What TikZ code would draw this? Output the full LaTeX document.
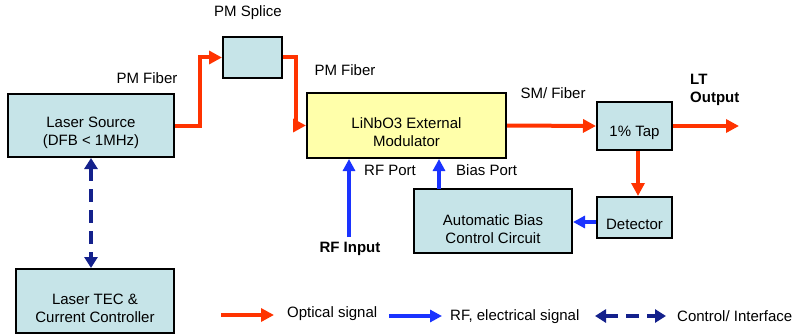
\documentclass[tikz,border=0pt]{standalone}
\usepackage{fontspec}
\setmainfont{Liberation Sans}
\usetikzlibrary{arrows.meta}
\definecolor{boxblue}{RGB}{198,228,232}
\definecolor{boxyellow}{RGB}{255,255,170}
\definecolor{optred}{RGB}{255,51,0}
\definecolor{rfblue}{RGB}{26,51,255}
\definecolor{ctlnavy}{RGB}{20,33,140}
\begin{document}
\begin{tikzpicture}[x=1pt,y=-1pt,
  box/.style={draw=black,line width=2pt,fill=boxblue,inner sep=0pt},
  lbl/.style={font=\fontsize{15}{18}\selectfont,align=center,inner sep=0pt},
  blbl/.style={font=\fontsize{15}{18}\selectfont\bfseries,align=left,inner sep=0pt},
  opt/.style={draw=optred,line width=4pt,-{Triangle[length=13pt,width=13pt]}},
  rf/.style={draw=rfblue,line width=4pt,-{Triangle[length=12pt,width=12pt]}},
  ctl/.style={draw=ctlnavy,line width=4pt,dash pattern=on 13pt off 8pt,
    {Triangle[length=11pt,width=13pt]}-{Triangle[length=11pt,width=13pt]}}]
\useasboundingbox (0,0) rectangle (794,334);

% boxes
\node[box,minimum width=166pt,minimum height=63pt] (laser) at (91,125.5) {};
\node[lbl] (laserT) at ([yshift=-7.5pt]laser.center) {Laser Source\\(DFB < 1MHz)};
\node[box,minimum width=59pt,minimum height=41pt] (splice) at (252.5,57.5) {};
\node[box,fill=boxyellow,minimum width=199pt,minimum height=65pt] (mod) at (406.5,125.5) {};
\node[lbl] (modT) at ([yshift=-7pt]mod.center) {LiNbO3 External\\Modulator};
\node[box,minimum width=75pt,minimum height=48pt] (tap) at (634.5,126) {};
\node[lbl] (tapT) at ([yshift=-7pt]tap.center) {1\% Tap};
\node[box,minimum width=75pt,minimum height=41pt] (det) at (634.5,217.5) {};
\node[lbl] (detT) at ([yshift=-6.5pt]det.center) {Detector};
\node[box,minimum width=158pt,minimum height=64pt] (bias) at (493,221) {};
\node[lbl] (biasT) at ([yshift=-8pt]bias.center) {Automatic Bias\\Control Circuit};
\node[box,minimum width=158pt,minimum height=64pt] (tec) at (95,301) {};
\node[lbl] (tecT) at ([yshift=-7.5pt]tec.center) {Laser TEC \&\\Current Controller};

% labels
\node[lbl] (splL) at (248,13) {PM Splice};
\node[lbl] (pmf1) at (147,78) {PM Fiber};
\node[lbl] (pmf2) at (345,70) {PM Fiber};
\node[lbl] (smf) at (553,93) {SM/ Fiber};
\node[blbl,anchor=west] (ltout) at (690,90) {LT\\Output};
\node[lbl,anchor=west] (rfport) at (364,170) {RF Port};
\node[lbl,anchor=west] (biasport) at (456,170) {Bias Port};
\node[blbl] (rfin) at (350,249) {RF Input};

% optical connectors
\draw[opt] (laser.east) -- ++(25,0) |- (splice.west);
\draw[opt] (splice.east) -- ++(13,0) |- (mod.west);
\draw[opt] (mod.east) -- (tap.west);
\coordinate (outend) at (739,126);
\draw[opt] (tap.east) -- (outend);
\draw[opt] ([xshift=3.5pt]tap.south) -- ([xshift=3.5pt]det.north);

% electrical connectors
\draw[rf] ([yshift=-4.5pt]det.west) -- ([yshift=-4.5pt]det.west -| bias.east);
\coordinate (bp) at (439,189);
\draw[rf] (bp) -- (bp |- mod.south);
\coordinate (rfs) at (349,237);
\draw[rf] (rfs) -- (rfs |- mod.south);

% control
\draw[ctl] (laser.south) -- (laser.south |- tec.north);

% legend
\coordinate (l1a) at (221,315); \coordinate (l1b) at (274,315);
\draw[opt] (l1a) -- (l1b);
\node[lbl,anchor=west] (l1t) at (287,314) {Optical signal};
\coordinate (l2a) at (389,316); \coordinate (l2b) at (442,316);
\draw[rf] (l2a) -- (l2b);
\node[lbl,anchor=west] (l2t) at (450,317) {RF, electrical signal};
\coordinate (l3a) at (595,316); \coordinate (l3b) at (666,316);
\draw[ctl] (l3a) -- (l3b);
\node[lbl,anchor=west] (l3t) at (677,316) {Control/ Interface};
\end{tikzpicture}
\end{document}
